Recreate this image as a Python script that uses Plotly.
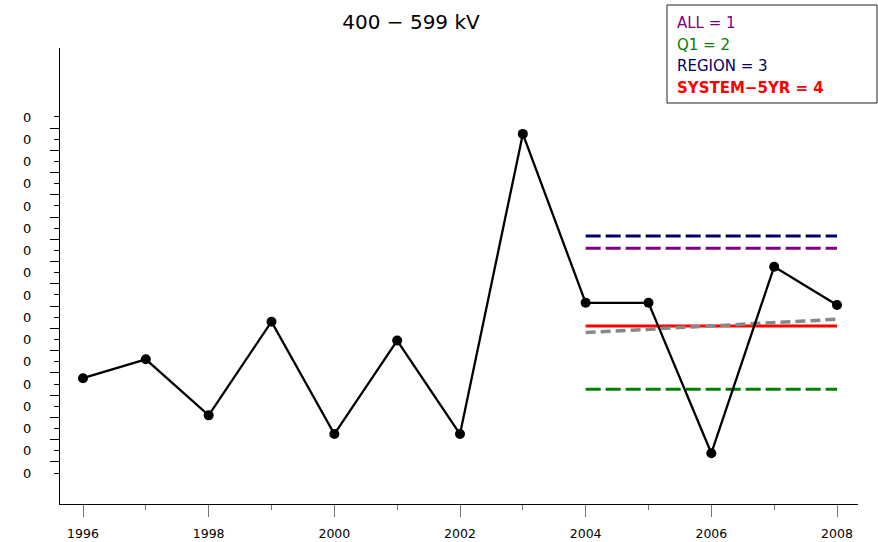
import plotly.graph_objects as go

# ---- data ----
years = [1996, 1997, 1998, 1999, 2000, 2001, 2002, 2003, 2004, 2005, 2006, 2007, 2008]
values = [0.0426, 0.0511, 0.0259, 0.0680, 0.0175, 0.0595, 0.0175, 0.1524,
          0.0765, 0.0765, 0.0089, 0.0927, 0.0755]

ref_years = [2004, 2008]
ref_names = ["ALL = 1", "Q1 = 2", "REGION = 3", "SYSTEM\u22125YR = 4"]
ref_values = [0.1010, 0.0376, 0.1065, 0.0661]
ref_colors = ["#800080", "#008000", "#000066", "#FF0000"]
ref_dashes = ["15px,5px", "15px,5px", "15px,5px", "solid"]
ref_bold = [False, False, False, True]

trend_years = [2004, 2008]
trend_values = [0.0631, 0.0691]

y_tickvals = [round(i * 0.01, 2) for i in range(17)]
y_ticktext = ["0"] * 17
y_minorvals = [round(0.005 + i * 0.01, 3) for i in range(16)]
x_tickvals = [1996, 1998, 2000, 2002, 2004, 2006, 2008]
x_ticktext = [str(v) for v in x_tickvals]
x_minorvals = [1997, 1999, 2001, 2003, 2005, 2007]

title_text = "400 \u2212 599 kV"

FONT = "DejaVu Sans"

fig = go.Figure()

# reference lines
for name, val, col, dash in zip(ref_names, ref_values, ref_colors, ref_dashes):
    fig.add_trace(go.Scatter(
        x=ref_years, y=[val, val], mode="lines", name=name,
        line=dict(color=col, width=3, dash=dash), showlegend=False,
        hoverinfo="skip"))

# trend line
fig.add_trace(go.Scatter(
    x=trend_years, y=trend_values, mode="lines",
    line=dict(color="#888888", width=3.5, dash="10px,5px"),
    showlegend=False, hoverinfo="skip"))

# main series
fig.add_trace(go.Scatter(
    x=years, y=values, mode="lines+markers",
    line=dict(color="black", width=2.3),
    marker=dict(color="black", size=10),
    showlegend=False))

# legend box
L, R, T, B = 60, 878 - 20, 48, 542 - 38
W, H = R - L, B - T


def px(xp):
    return (xp - L) / W


def py(yp):
    return (B - yp) / H


fig.add_shape(type="rect", xref="paper", yref="paper",
              x0=px(667), x1=px(877), y0=py(103), y1=py(5),
              line=dict(color="#222222", width=1), fillcolor="white", layer="above")

label_y = [23, 44.5, 66, 87.5]
for name, col, bold, yy in zip(ref_names, ref_colors, ref_bold, label_y):
    txt = f"<b>{name}</b>" if bold else name
    fig.add_annotation(xref="paper", yref="paper", x=px(675), y=py(yy),
                       xanchor="left", yanchor="middle", showarrow=False,
                       text=txt, font=dict(family=FONT, size=15, color=col))

fig.update_layout(
    width=878, height=542,
    margin=dict(l=L, r=878 - R, t=T, b=542 - B, autoexpand=False),
    paper_bgcolor="white", plot_bgcolor="white",
    font=dict(family=FONT, color="black"),
    title=dict(text=title_text, x=411 / 878, xref="container", xanchor="center",
               y=1 - 22 / 542, yref="container", yanchor="middle",
               font=dict(family=FONT, size=20, color="black")),
    xaxis=dict(
        range=[1995.634, 2008.334], showgrid=False, zeroline=False,
        automargin=False,
        showline=True, linecolor="black", linewidth=1,
        tickmode="array", tickvals=x_tickvals, ticktext=x_ticktext,
        ticks="outside", ticklen=12, tickwidth=1, tickcolor="#777777",
        ticklabelstandoff=6,
        tickfont=dict(family=FONT, size=12.5, color="black"),
        minor=dict(tickmode="array", tickvals=x_minorvals, ticks="outside",
                   ticklen=5, tickwidth=1, tickcolor="#777777"),
    ),
    yaxis=dict(
        range=[-0.01393, 0.1910], showgrid=False, zeroline=False,
        automargin=False,
        showline=True, linecolor="black", linewidth=1,
        tickmode="array", tickvals=y_tickvals, ticktext=y_ticktext,
        ticks="outside", ticklen=5, tickwidth=1, tickcolor="black",
        ticklabelstandoff=20,
        tickfont=dict(family=FONT, size=13, color="black"),
        minor=dict(tickmode="array", tickvals=y_minorvals, ticks="outside",
                   ticklen=9, tickwidth=1, tickcolor="black"),
    ),
)

fig.write_html("out.html",
               config={"displayModeBar": False},
               post_script="document.body.style.margin='0';"
                           "document.body.style.overflow='hidden';")
